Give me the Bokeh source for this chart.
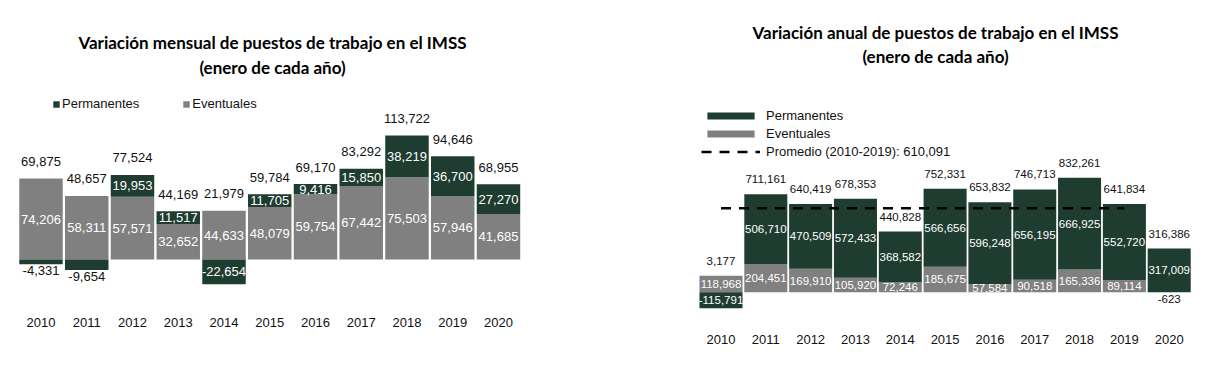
import numpy as np
from bokeh.plotting import figure
from bokeh.models import Range1d, FixedTicker, Label, Legend, LegendItem, ColumnDataSource
from bokeh.layouts import row
from bokeh.embed import file_html
from bokeh.resources import INLINE
from bokeh.core.properties import value

# ---------------- data ----------------
years = [2010, 2011, 2012, 2013, 2014, 2015, 2016, 2017, 2018, 2019, 2020]
year_labels = ["2010", "2011", "2012", "2013", "2014", "2015", "2016", "2017", "2018", "2019", "2020"]

mensual_permanentes = [-4331, -9654, 19953, 11517, -22654, 11705, 9416, 15850, 38219, 36700, 27270]
mensual_eventuales = [74206, 58311, 57571, 32652, 44633, 48079, 59754, 67442, 75503, 57946, 41685]
mensual_total = [69875, 48657, 77524, 44169, 21979, 59784, 69170, 83292, 113722, 94646, 68955]

anual_permanentes = [-115791, 506710, 470509, 572433, 368582, 566656, 596248, 656195, 666925, 552720, 317009]
anual_eventuales = [118968, 204451, 169910, 105920, 72246, 185675, 57584, 90518, 165336, 89114, -623]
anual_total = [3177, 711161, 640419, 678353, 440828, 752331, 653832, 746713, 832261, 641834, 316386]

promedio_years = [2010, 2019]
promedio_anual = 610091
promedio_label = "Promedio (2010-2019): 610,091"

title_mensual = ["Variación mensual de puestos de trabajo en el IMSS", "(enero de cada año)"]
title_anual = ["Variación anual de puestos de trabajo en el IMSS", "(enero de cada año)"]

DARK = "#1e3c30"
GRAY = "#808080"
TXT = "#111111"
H = 375
BORDER_BOTTOM = 63


def fmt(v):
    return f"{int(v):,}"


def chart(width, x_range, y_range, bar_width, ev, pe, small_neg, standoff):
    p = figure(width=width, height=H, x_range=x_range, y_range=y_range,
               output_backend="svg", toolbar_location=None, y_axis_location=None,
               min_border_left=0, min_border_right=0, min_border_top=0,
               min_border_bottom=BORDER_BOTTOM, outline_line_color=None,
               background_fill_color="white", border_fill_color="white")
    p.xgrid.visible = False
    p.ygrid.visible = False
    ax = p.xaxis[0]
    ax.ticker = FixedTicker(ticks=years)
    ax.major_label_overrides = {y: l for y, l in zip(years, year_labels)}
    ax.axis_line_color = None
    ax.major_tick_line_color = None
    ax.minor_tick_line_color = None
    ax.major_tick_out = 0
    ax.major_tick_in = 0
    ax.major_label_standoff = standoff
    ax.major_label_text_font = "Liberation Sans"
    ax.major_label_text_font_size = "13px"
    ax.major_label_text_color = TXT

    ev = np.array(ev, float)
    pe = np.array(pe, float)
    ev_bottom = np.zeros_like(ev)
    ev_top = ev
    pe_bottom = np.where(pe >= 0, np.maximum(ev, 0), np.minimum(ev, 0))
    pe_top = pe_bottom + pe
    pos_top = np.maximum(ev, 0) + np.maximum(pe, 0)

    r_ev = p.vbar(x=years, bottom=ev_bottom, top=ev_top, width=bar_width,
                  fill_color=GRAY, line_color=None)
    r_pe = p.vbar(x=years, bottom=pe_bottom, top=pe_top, width=bar_width,
                  fill_color=DARK, line_color=None)

    inside = dict(x=[], y=[], t=[])
    outside = dict(x=[], y=[], t=[])
    for vals, bots, tops in ((ev, ev_bottom, ev_top), (pe, pe_bottom, pe_top)):
        for yr, v, b, t in zip(years, vals, bots, tops):
            if v < 0 and abs(v) < small_neg:
                outside["x"].append(yr); outside["y"].append(min(b, t)); outside["t"].append(fmt(v))
            else:
                inside["x"].append(yr); inside["y"].append((b + t) / 2); inside["t"].append(fmt(v))
    return p, r_ev, r_pe, inside, outside, pos_top


def add_labels(p, inside, outside, pos_top, tot, value_font, value_size, total_offset, out_offset):
    p.text(x="x", y="y", text="t", source=ColumnDataSource(inside),
           text_color="white", text_align="center", text_baseline="middle",
           text_font=value(value_font), text_font_size=value_size)
    p.text(x="x", y="y", text="t", source=ColumnDataSource(outside),
           text_color=TXT, text_align="center", text_baseline="top", y_offset=out_offset,
           text_font=value(value_font), text_font_size=value_size)
    p.text(x=years, y=list(pos_top), text=[fmt(v) for v in tot],
           text_color=TXT, text_align="center", text_baseline="middle", y_offset=total_offset,
           text_font=value(value_font), text_font_size=value_size)


def add_title(p, lines, x, y1, y2, size):
    for txt, yy in zip(lines, (y1, y2)):
        p.add_layout(Label(x=x, y=yy, x_units="screen", y_units="screen", text=txt,
                           text_align="center", text_baseline="middle",
                           text_font="Lato", text_font_style="bold",
                           text_font_size=size, text_color="#000000"))


# ---------------- left chart (monthly) ----------------
p1, r_ev1, r_pe1, ins1, out1, top1 = chart(
    620, Range1d(2009.1148, 2022.667), Range1d(-48624, 237615), 0.95,
    mensual_eventuales, mensual_permanentes, 13000, 5)
add_labels(p1, ins1, out1, top1, mensual_total, "Liberation Sans", "13px", -17, 2)
add_title(p1, title_mensual, 272, 270, 245, "17px")
leg1 = Legend(items=[LegendItem(label="Permanentes", renderers=[r_pe1]),
                     LegendItem(label="Eventuales", renderers=[r_ev1])],
              orientation="horizontal", location=(52, 201),
              glyph_width=8, glyph_height=8, label_standoff=2, spacing=43,
              padding=0, margin=0, border_line_color=None, background_fill_alpha=0,
              label_text_font="Liberation Sans", label_text_font_size="13px",
              label_text_color=TXT, label_height=14)
p1.add_layout(leg1)

# ---------------- right chart (annual) ----------------
p2, r_ev2, r_pe2, ins2, out2, top2 = chart(
    600, Range1d(2007.7577, 2021.1446), Range1d(-147529, 2119913), 0.96,
    anual_eventuales, anual_permanentes, 100000, 22)
r_avg = p2.line(x=promedio_years, y=[promedio_anual] * len(promedio_years),
                line_color="black", line_width=2.5, line_dash="10 8")
add_labels(p2, ins2, out2, top2, anual_total, "Liberation Sans", "11.5px", -15, 3)
add_title(p2, title_anual, 315, 280, 256, "17px")
leg2 = Legend(items=[LegendItem(label="Permanentes", renderers=[r_pe2]),
                     LegendItem(label="Eventuales", renderers=[r_ev2]),
                     LegendItem(label=promedio_label, renderers=[r_avg])],
              orientation="vertical", location=(81, 153),
              glyph_width=59, glyph_height=9, label_standoff=6, spacing=3,
              padding=0, margin=0, border_line_color=None, background_fill_alpha=0,
              label_text_font="Liberation Sans", label_text_font_size="13px",
              label_text_color=TXT, label_height=14)
p2.add_layout(leg2)

layout = row(p1, p2)
open("out.html", "w").write(file_html(layout, INLINE))
